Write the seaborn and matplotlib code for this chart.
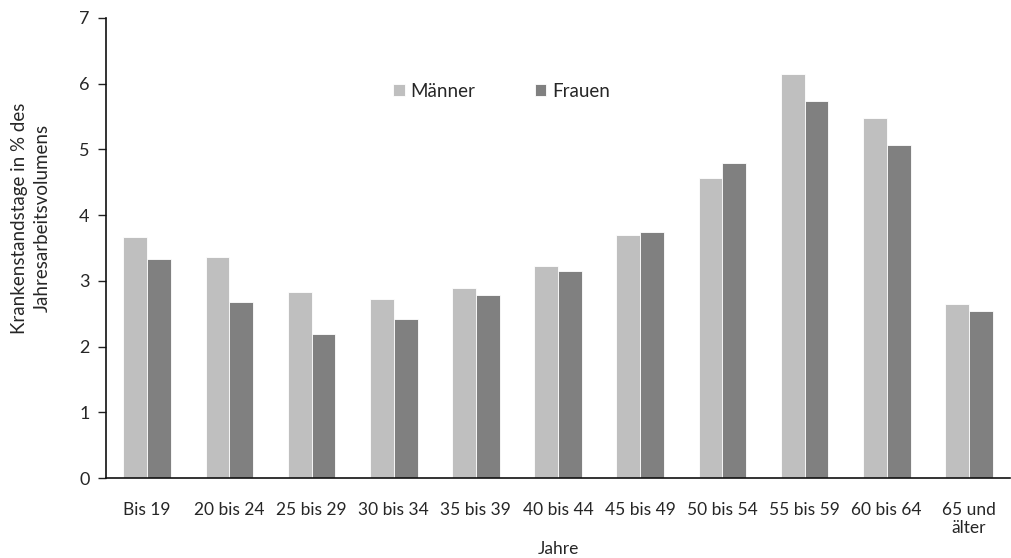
import matplotlib
matplotlib.use("Agg")
import matplotlib.pyplot as plt
import pandas as pd
import seaborn as sns

# Age groups and sick-leave days (% of annual work volume)
AGE_GROUPS = ["Bis 19", "20 bis 24", "25 bis 29", "30 bis 34", "35 bis 39",
              "40 bis 44", "45 bis 49", "50 bis 54", "55 bis 59", "60 bis 64",
              "65 und\nälter"]
MAENNER = [3.67, 3.36, 2.83, 2.73, 2.89, 3.23, 3.70, 4.56, 6.15, 5.48, 2.65]
FRAUEN = [3.33, 2.68, 2.19, 2.42, 2.78, 3.15, 3.75, 4.79, 5.74, 5.06, 2.55]
SERIES = ["Männer", "Frauen"]
COLORS = {"Männer": "#BFBFBF", "Frauen": "#808080"}

df = pd.DataFrame({
    "Jahre": AGE_GROUPS * 2,
    "Wert": MAENNER + FRAUEN,
    "Geschlecht": [SERIES[0]] * len(AGE_GROUPS) + [SERIES[1]] * len(AGE_GROUPS),
})

sns.set_style("white")
plt.rcParams["font.family"] = ["Lato", "DejaVu Sans"]

fig, ax = plt.subplots(figsize=(10.11, 5.58), dpi=100)
fig.subplots_adjust(left=0.105, right=0.999, top=0.968, bottom=0.143)

sns.barplot(data=df, x="Jahre", y="Wert", hue="Geschlecht",
            hue_order=SERIES, palette=COLORS, width=0.58, gap=0,
            edgecolor="white", linewidth=0.6, ax=ax)

ax.set_ylim(0, 7)
ax.set_xlim(-0.5, 10.5)
ax.set_yticks(range(0, 8))
ax.tick_params(axis="y", direction="out", length=6, width=1, color="#222222",
               labelsize=13, left=True, pad=6)
ax.tick_params(axis="x", length=0, labelsize=12.5, pad=17)

for side in ["top", "right"]:
    ax.spines[side].set_visible(False)
for side in ["left", "bottom"]:
    ax.spines[side].set_color("#111111")
    ax.spines[side].set_linewidth(1.2)

ax.set_xlabel("Jahre", fontsize=12.5, labelpad=3)
ax.set_ylabel("Krankenstandstage in % des\nJahresarbeitsvolumens",
              fontsize=13.5, linespacing=1.45)
ax.yaxis.set_label_coords(-0.061, 0.565)

ax.legend(loc="center left", bbox_to_anchor=(0.3075, 0.841), ncol=2,
          frameon=False, fontsize=13.5, borderpad=0, handlelength=0.6,
          handleheight=0.6, handletextpad=0.3, columnspacing=3.2)

plt.savefig("out.png", dpi=100)
plt.close()
